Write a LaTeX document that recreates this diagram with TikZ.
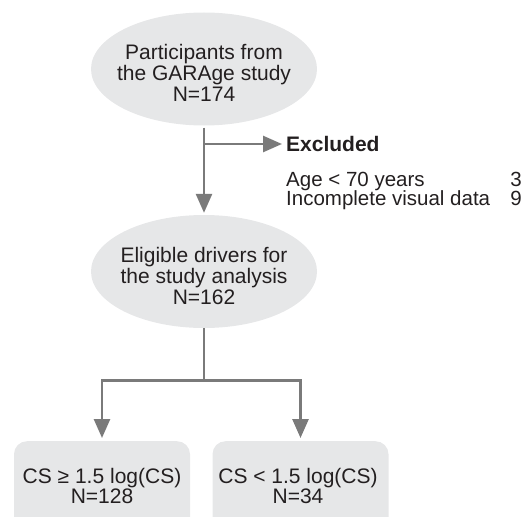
\documentclass[tikz,border=0pt]{standalone}
\usepackage{fontspec}
\setmainfont{Liberation Sans}
\usetikzlibrary{shapes.geometric,arrows.meta}
\definecolor{boxfill}{HTML}{E6E7E8}
\definecolor{linegray}{HTML}{7A7A7A}
\definecolor{txt}{HTML}{231F20}
\tikzset{
  bubble/.style={ellipse, fill=boxfill, minimum width=226pt, minimum height=113pt, inner sep=0pt},
  roundbox/.style={rectangle, rounded corners=13pt, fill=boxfill, minimum width=176pt, minimum height=100pt, inner sep=0pt},
  line21/.style={anchor=base, text=txt, inner sep=0pt, font=\fontsize{21}{21}\selectfont},
  listtext/.style={text=txt, inner sep=0pt, font=\fontsize{20.5}{20}\selectfont},
  flowline/.style={draw=linegray, line width=2.7pt},
  flowarrow/.style={flowline, -{Triangle[length=19pt,width=16pt]}, shorten >=2pt},
}
\begin{document}
\begin{tikzpicture}[x=1pt,y=-1pt]
\useasboundingbox (0,0) rectangle (529,516);
\clip (0,0) rectangle (529,516);
% shapes
\node[bubble] (e1) at (204,69) {};
\node[bubble] (e2) at (204,271.5) {};
\node[roundbox, anchor=north] (b1) at (102,441) {};
\node[roundbox, anchor=north] (b2) at (300.5,441) {};
% ellipse texts
\node[line21] (e1a) at (204,60) {Participants from};
\node[line21] (e1b) at (204,81) {the GARAge study};
\node[line21] (e1c) at (204,102) {N=174};
\node[line21] (e2a) at (204,262) {Eligible drivers for};
\node[line21] (e2b) at (204,283) {the study analysis};
\node[line21] (e2c) at (204,304) {N=162};
% box texts
\node[line21] (b1a) at (102,483) {CS ≥ 1.5 log(CS)};
\node[line21] (b1b) at (102,503) {N=128};
\node[line21] (b2a) at (298,483) {CS < 1.5 log(CS)};
\node[line21] (b2b) at (298,503) {N=34};
% exclusion
\node[listtext, anchor=west, font=\fontsize{21}{21}\selectfont\bfseries] (excl) at (286,144) {Excluded};
\node[listtext, anchor=base west] (age) at (286,186.5) {Age < 70 years};
\node[listtext, anchor=base west] (inc) at (286,205.5) {Incomplete visual data};
\node[listtext, anchor=base east] (n3) at (522,186.5) {3};
\node[listtext, anchor=base east] (n9) at (522,205.5) {9};
% connectors
\coordinate (br) at (204,144);
\coordinate (split) at (204,380.5);
\draw[flowarrow, shorten <=2pt] (e1.south) -- (e2.north);
\draw[flowarrow, shorten >=4pt] (br) -- (excl.west);
\draw[flowline] (e2.south) -- (split);
\draw[flowarrow, shorten >=3pt] (split) -| (b1.north);
\draw[flowarrow, shorten >=3pt] (split) -| (b2.north);
\end{tikzpicture}
\end{document}
